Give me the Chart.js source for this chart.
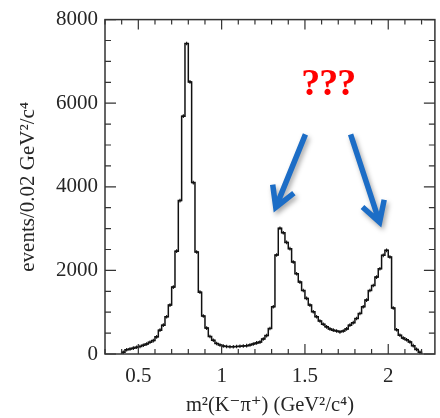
<!DOCTYPE html>
<html>
<head>
<meta charset="utf-8">
<script src="https://cdn.jsdelivr.net/npm/chart.js@4.4.0/dist/chart.umd.min.js"></script>
<style>
  html, body { margin: 0; padding: 0; background: #fff; overflow: hidden; }
  #wrap { width: 440px; height: 418px; position: relative; }
</style>
</head>
<body>
<div id="wrap"><canvas id="massChart" width="440" height="418"></canvas></div>
<script>
// m^2(K- pi+) spectrum, 0.02 GeV^2/c^4 bins from 0.40
var binStart = 0.40;
var binWidth = 0.02;
var counts = [
  40, 100, 120, 140, 160, 180, 210, 240, 280, 320,
  410, 570, 690, 890, 1170, 1600, 2460, 3670, 5690, 7430,
  6510, 4100, 2440, 1480, 910, 620, 420, 330, 250, 215,
  190, 180, 175, 175, 180, 185, 190, 200, 215, 240,
  265, 285, 360, 440, 610, 1130, 2370, 3010, 2900, 2670,
  2520, 2200, 1920, 1720, 1520, 1330, 1170, 1010, 890, 790,
  710, 650, 600, 570, 550, 530, 550, 600, 690, 750,
  850, 970, 1130, 1290, 1520, 1640, 1840, 2040, 2360, 2480,
  2320, 1100, 580, 450, 380, 340, 290, 200, 110, 40
];
var xTickValues = [0.5, 1, 1.5, 2];
var xTickLabels = ["0.5", "1", "1.5", "2"];
var yTickValues = [0, 2000, 4000, 6000, 8000];
var yTickLabels = ["0", "2000", "4000", "6000", "8000"];

// question marks and arrows, placed in axis units
var noteText = "???";
var notePos = [1.64, 6430];
var arrowFrom = [[1.503, 5255], [1.774, 5255]];
var arrowTo = [[1.325, 3507], [1.948, 3150]];

var serif = "'Liberation Serif', 'DejaVu Serif', serif";
var inkColor = "#262626";

// histogram outline: start at zero, one point per bin low edge, drop back to zero
var histPoints = [{x: binStart, y: 0}];
counts.forEach(function(c, i) {
  histPoints.push({x: binStart + i * binWidth, y: c});
});
histPoints.push({x: binStart + counts.length * binWidth, y: 0});

// small crosses at the bin centres
var markPoints = counts.map(function(c, i) {
  return {x: binStart + (i + 0.5) * binWidth, y: c};
});

var frameTicks = {
  id: 'frameTicks',
  afterDraw: function(chart) {
    var ctx = chart.ctx;
    var a = chart.chartArea;
    var xs = chart.scales.x, ys = chart.scales.y;
    ctx.save();
    ctx.strokeStyle = "#333";
    ctx.lineWidth = 1.5;
    ctx.strokeRect(a.left, a.top, a.right - a.left, a.bottom - a.top);
    ctx.lineWidth = 1.2;
    ctx.beginPath();
    // x: minor every 0.1, major every 0.5
    for (var k = 3; k <= 22; k++) {
      var px = xs.getPixelForValue(k / 10);
      var len = (k % 5 == 0) ? 10 : 5;
      ctx.moveTo(px, a.bottom); ctx.lineTo(px, a.bottom - len);
      ctx.moveTo(px, a.top); ctx.lineTo(px, a.top + len);
    }
    // y: minor every 500, major every 2000
    for (var m = 0; m <= 8000; m += 500) {
      var py = ys.getPixelForValue(m);
      var l = (m % 2000 == 0) ? 11 : 6;
      ctx.moveTo(a.left, py); ctx.lineTo(a.left + l, py);
      ctx.moveTo(a.right, py); ctx.lineTo(a.right - l, py);
    }
    ctx.stroke();
    ctx.restore();
  }
};

function drawArrow(ctx, x0, y0, x1, y1) {
  var ang = Math.atan2(y0 - y1, x0 - x1);
  var head = 23, spread = 0.52;
  ctx.beginPath();
  ctx.moveTo(x0, y0);
  ctx.lineTo(x1, y1);
  ctx.moveTo(x1 + head * Math.cos(ang - spread), y1 + head * Math.sin(ang - spread));
  ctx.lineTo(x1, y1);
  ctx.lineTo(x1 + head * Math.cos(ang + spread), y1 + head * Math.sin(ang + spread));
  ctx.stroke();
}

var notes = {
  id: 'notes',
  afterDraw: function(chart) {
    var ctx = chart.ctx;
    var xs = chart.scales.x, ys = chart.scales.y;
    ctx.save();
    ctx.fillStyle = "#ff0000";
    ctx.font = "bold 38px " + serif;
    ctx.textAlign = "center";
    ctx.textBaseline = "middle";
    ctx.letterSpacing = "-1px";
    ctx.fillText(noteText, xs.getPixelForValue(notePos[0]), ys.getPixelForValue(notePos[1]));
    ctx.restore();

    ctx.save();
    ctx.strokeStyle = "#1c6dc6";
    ctx.lineWidth = 5.5;
    ctx.lineCap = "butt";
    ctx.lineJoin = "miter";
    ctx.shadowColor = "rgba(0,0,0,0.35)";
    ctx.shadowBlur = 5;
    ctx.shadowOffsetX = 2;
    ctx.shadowOffsetY = 3;
    for (var i = 0; i < arrowFrom.length; i++) {
      drawArrow(ctx,
        xs.getPixelForValue(arrowFrom[i][0]), ys.getPixelForValue(arrowFrom[i][1]),
        xs.getPixelForValue(arrowTo[i][0]), ys.getPixelForValue(arrowTo[i][1]));
    }
    ctx.restore();
  }
};

new Chart(document.getElementById('massChart'), {
  type: 'line',
  data: {
    datasets: [{
      label: 'events',
      data: histPoints,
      stepped: 'before',
      borderColor: '#111',
      borderWidth: 1.5,
      pointRadius: 0,
      fill: false
    }, {
      label: 'data',
      type: 'scatter',
      data: markPoints,
      pointStyle: 'cross',
      pointRadius: 1.8,
      borderColor: '#111',
      borderWidth: 1.1,
      showLine: false
    }]
  },
  options: {
    responsive: false,
    animation: false,
    events: [],
    layout: { padding: { top: 17, right: 1, left: 0, bottom: 0 } },
    plugins: { legend: { display: false }, tooltip: { enabled: false } },
    scales: {
      x: {
        type: 'linear',
        min: 0.3,
        max: 2.28,
        grid: { display: false, drawTicks: false },
        border: { display: false },
        afterBuildTicks: function(scale) {
          scale.ticks = xTickValues.map(function(v) { return {value: v}; });
        },
        afterFit: function(scale) { scale.height = 64; },
        ticks: {
          padding: 10,
          color: inkColor,
          font: { family: serif, size: 21 },
          maxRotation: 0,
          callback: function(v) { return xTickLabels[xTickValues.indexOf(v)]; }
        },
        title: {
          display: true,
          text: 'm\u00b2(K\u207b\u03c0\u207a) (GeV\u00b2/c\u2074)',
          color: inkColor,
          font: { family: serif, size: 20.5 },
          padding: { top: 0, bottom: 0 }
        }
      },
      y: {
        min: 0,
        max: 8000,
        grid: { display: false, drawTicks: false },
        border: { display: false },
        afterBuildTicks: function(scale) {
          scale.ticks = yTickValues.map(function(v) { return {value: v}; });
        },
        afterFit: function(scale) { scale.width = 105; },
        ticks: {
          padding: 7,
          color: inkColor,
          font: { family: serif, size: 21 },
          callback: function(v) { return yTickLabels[yTickValues.indexOf(v)]; }
        },
        title: {
          display: true,
          text: 'events/0.02 GeV\u00b2/c\u2074',
          color: inkColor,
          font: { family: serif, size: 21 },
          padding: { top: 16, bottom: 0 }
        }
      }
    }
  },
  plugins: [frameTicks, notes]
});
</script>
</body>
</html>
